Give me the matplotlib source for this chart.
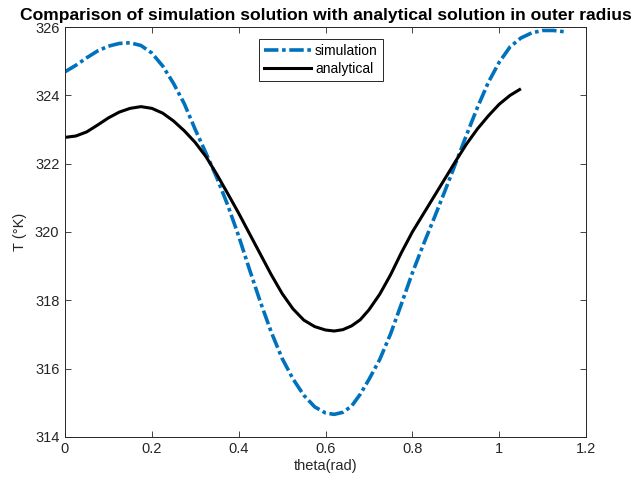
import matplotlib
matplotlib.use("Agg")
import matplotlib.pyplot as plt

# values
theta_sim = [0.000, 0.025, 0.050, 0.075, 0.100, 0.125, 0.150, 0.175, 0.200, 0.225,
             0.250, 0.275, 0.300, 0.325, 0.350, 0.375, 0.400, 0.425, 0.450, 0.475,
             0.500, 0.525, 0.550, 0.575, 0.600, 0.620, 0.640, 0.660, 0.680, 0.700,
             0.725, 0.750, 0.775, 0.800, 0.825, 0.850, 0.875, 0.900, 0.925, 0.950,
             0.975, 1.000, 1.025, 1.050, 1.075, 1.100, 1.125, 1.152]
T_sim = [324.69, 324.88, 325.10, 325.30, 325.44, 325.52, 325.54, 325.46, 325.24, 324.86,
         324.35, 323.75, 323.00, 322.30, 321.58, 320.78, 319.88, 318.90, 317.95, 317.07,
         316.30, 315.70, 315.22, 314.88, 314.70, 314.66, 314.72, 314.90, 315.25, 315.68,
         316.27, 317.02, 317.90, 318.80, 319.62, 320.40, 321.20, 322.02, 322.85, 323.65,
         324.38, 324.97, 325.42, 325.68, 325.83, 325.90, 325.90, 325.86]

theta_ana = [0.000, 0.025, 0.050, 0.075, 0.100, 0.125, 0.150, 0.175, 0.200, 0.225,
             0.250, 0.275, 0.300, 0.325, 0.350, 0.375, 0.400, 0.425, 0.450, 0.475,
             0.500, 0.525, 0.550, 0.575, 0.600, 0.620, 0.640, 0.660, 0.680, 0.700,
             0.725, 0.750, 0.775, 0.800, 0.825, 0.850, 0.875, 0.900, 0.925, 0.950,
             0.975, 1.000, 1.025, 1.047]
T_ana = [322.77, 322.81, 322.93, 323.13, 323.34, 323.51, 323.62, 323.67, 323.62, 323.48,
         323.25, 322.96, 322.62, 322.20, 321.68, 321.12, 320.55, 319.95, 319.35, 318.75,
         318.20, 317.75, 317.42, 317.23, 317.13, 317.10, 317.14, 317.25, 317.43, 317.72,
         318.18, 318.75, 319.40, 320.00, 320.52, 321.04, 321.56, 322.08, 322.58, 323.02,
         323.40, 323.74, 324.00, 324.17]

xticks = [0, 0.2, 0.4, 0.6, 0.8, 1, 1.2]
xticklabels = ["0", "0.2", "0.4", "0.6", "0.8", "1", "1.2"]
yticks = [314, 316, 318, 320, 322, 324, 326]

BLUE = "#0072BD"
AXC = "#262626"

plt.rcParams["font.family"] = ["Liberation Sans", "DejaVu Sans"]

fig = plt.figure(figsize=(6.37, 4.92), dpi=100)
ax = fig.add_axes([0.102, 0.112, 0.818, 0.833])

ax.plot(theta_sim, T_sim, color=BLUE, linewidth=2.6,
        linestyle=(0, (4.0, 1.0, 1.0, 1.0)), label="simulation")
ax.plot(theta_ana, T_ana, color="black", linewidth=2.2, label="analytical")

ax.set_xlim(0, 1.2)
ax.set_ylim(314, 326)
ax.set_xticks(xticks)
ax.set_xticklabels(xticklabels)
ax.set_yticks(yticks)
ax.tick_params(direction="in", top=True, right=True, length=4, width=0.6,
               colors=AXC, labelsize=10.5, pad=4)
for sp in ax.spines.values():
    sp.set_color(AXC)
    sp.set_linewidth(0.7)

ax.set_xlabel("theta(rad)", fontsize=10.5, color=AXC, labelpad=2)
ax.set_ylabel("T (°K)", fontsize=10.5, color=AXC, labelpad=6)
ax.set_title("Comparison of simulation solution with analytical solution in outer radius",
             fontsize=12.6, fontweight="bold", pad=5)

leg = ax.legend(loc="upper center", bbox_to_anchor=(0.491, 0.971), borderaxespad=0,
                fontsize=10, fancybox=False, framealpha=1, edgecolor=AXC,
                handlelength=3.4, handletextpad=0.3, borderpad=0.35, labelspacing=0.3)
leg.get_frame().set_linewidth(0.7)

fig.savefig("out.png", dpi=100)
